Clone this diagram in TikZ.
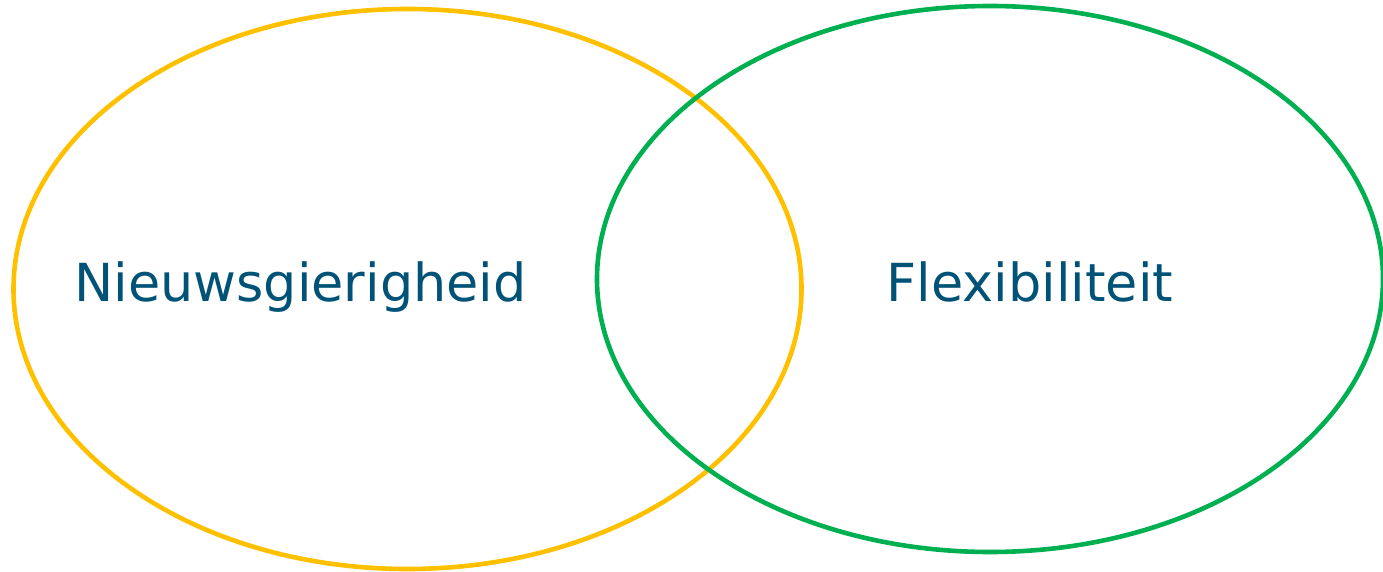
\documentclass[tikz,border=0pt]{standalone}
\usepackage{fontspec}
\setmainfont{DejaVu Sans}
\usetikzlibrary{shapes.geometric}
\definecolor{venyellow}{RGB}{255,192,0}
\definecolor{vengreen}{RGB}{0,176,80}
\definecolor{ventext}{RGB}{0,82,118}
\tikzset{
  venset/.style={ellipse, draw, line width=4.6pt, inner sep=0pt, fill=none},
  venlabel/.style={anchor=base, inner sep=0pt, text=ventext, font=\fontsize{52.4}{60}\selectfont}
}
\begin{document}
\begin{tikzpicture}[x=1pt,y=-1pt]
\useasboundingbox (0,0) rectangle (1383,572);
\node[venset, draw=venyellow, minimum width=788pt, minimum height=560pt] (nieuw) at (407.5,289) {};
\node[venset, draw=vengreen, minimum width=786pt, minimum height=546pt] (flex) at (990,279) {};
\node[venlabel] (tn) at (300.5,301) {Nieuwsgierigheid};
\node[venlabel] (tf) at (1030,301) {Flexibiliteit};
\end{tikzpicture}
\end{document}
